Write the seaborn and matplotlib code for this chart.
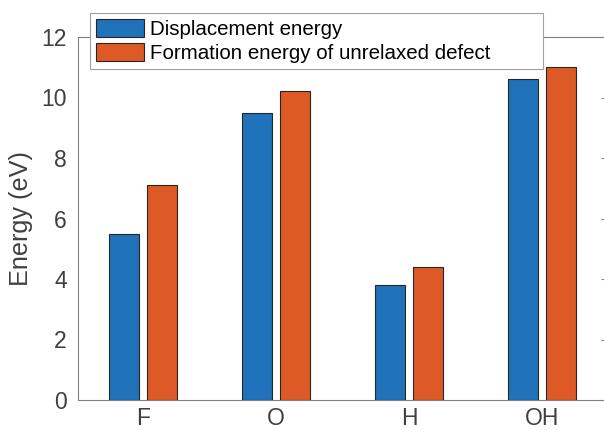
import matplotlib
matplotlib.use("Agg")
import matplotlib.pyplot as plt
import seaborn as sns
import pandas as pd

# data
species = ["F", "O", "H", "OH"]
displacement = [5.5, 9.5, 3.8, 10.6]
formation = [7.1, 10.2, 4.4, 11.0]
series_names = ["Displacement energy", "Formation energy of unrelaxed defect"]
yticks = [0, 2, 4, 6, 8, 10, 12]

df = pd.DataFrame({
    "species": species * 2,
    "energy": displacement + formation,
    "kind": [series_names[0]] * len(species) + [series_names[1]] * len(species),
})

sns.set_style("white")
plt.rcParams["font.family"] = ["Liberation Sans", "DejaVu Sans"]

axis_grey = "#808080"
text_grey = "#404040"

fig = plt.figure(figsize=(6.04, 4.30), dpi=100)
ax = fig.add_axes([78 / 604, 30 / 430, 529 / 604, 363 / 430])

sns.barplot(data=df, x="species", y="energy", hue="kind", order=species,
            hue_order=series_names, palette=["#2072ba", "#dd5a27"],
            saturation=1, width=0.571, gap=0.21, edgecolor="#262626",
            linewidth=0.8, ax=ax)

ax.set_xlim(-0.49, 3.49)
ax.set_ylim(0, 12)
ax.set_yticks(yticks)
ax.set_xlabel("")
ax.set_ylabel("Energy (eV)", fontsize=18.2, color=text_grey, labelpad=6)

for side in ["left", "bottom", "top", "right"]:
    ax.spines[side].set_visible(True)
    ax.spines[side].set_color(axis_grey)
    ax.spines[side].set_linewidth(0.8)

ax.tick_params(axis="both", direction="in", length=4, width=0.8,
               color=axis_grey, labelcolor=text_grey, labelsize=16.5,
               top=True, right=True)
ax.tick_params(axis="x", pad=5)
ax.tick_params(axis="y", pad=8)

# legend box spans x 90..543 px, top at 13 px in the reference
leg = ax.legend(loc="upper left", mode="expand",
                bbox_to_anchor=(12 / 529, 1.066 - 0.3, 453 / 529, 0.3),
                fontsize=14.8, frameon=True, fancybox=False,
                edgecolor="#a0a0a0", framealpha=1, borderpad=0.3,
                handlelength=2.33, handleheight=0.92, handletextpad=0.3,
                labelspacing=0.22, borderaxespad=0)
leg.get_frame().set_linewidth(0.8)
for t in leg.get_texts():
    t.set_color("black")

fig.savefig("out.png", dpi=100)
